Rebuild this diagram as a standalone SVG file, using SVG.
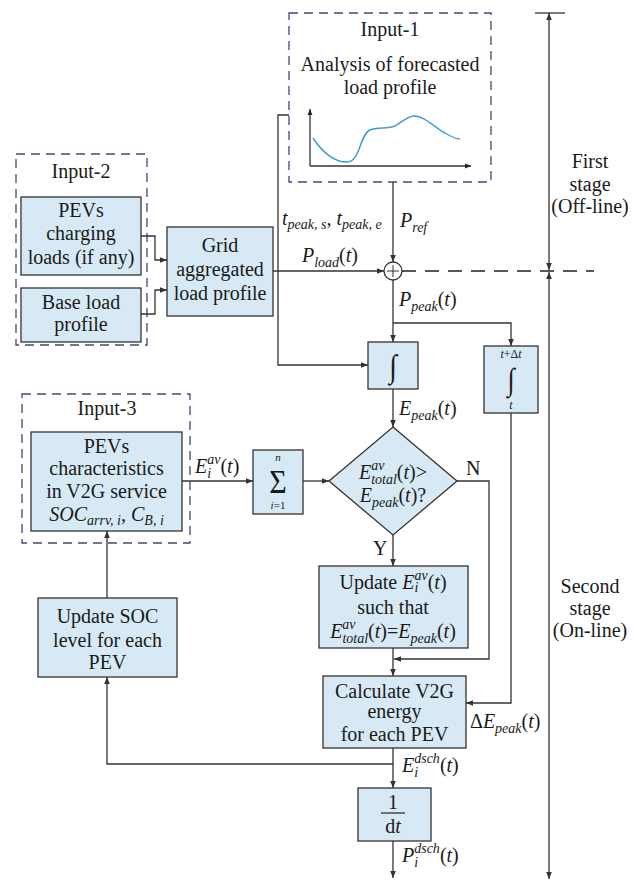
<svg xmlns="http://www.w3.org/2000/svg" width="634" height="881" viewBox="0 0 634 881">
<defs>
<marker id="ah" viewBox="0 0 10 10" refX="10" refY="5" markerWidth="7" markerHeight="7" orient="auto-start-reverse" markerUnits="userSpaceOnUse"><path d="M0,1 L10,5 L0,9 z" fill="#333"/></marker>
<marker id="ahs" viewBox="0 0 10 10" refX="10" refY="5" markerWidth="6" markerHeight="6" orient="auto-start-reverse" markerUnits="userSpaceOnUse"><path d="M0,1 L10,5 L0,9 z" fill="#222"/></marker>
</defs>
<style>
text{font-family:"Liberation Serif","Times New Roman",serif;font-size:20px;fill:#1a1a1a}
.m{font-style:italic}
.s{font-size:14px}
.box{fill:#d7e9f5;stroke:#333;stroke-width:1.3}
.grp{fill:none;stroke:#45457f;stroke-width:1.3;stroke-dasharray:9 6}
.c{fill:none;stroke:#333;stroke-width:1.3}
</style>
<rect width="634" height="881" fill="#fff"/>

<g id="input1">
<rect class="grp" x="289" y="13" width="202" height="169"/>
<text x="390" y="36" text-anchor="middle">Input-1</text>
<text x="390" y="71" text-anchor="middle">Analysis of forecasted</text>
<text x="390" y="94" text-anchor="middle">load profile</text>
<path class="c" d="M310,166 V109" marker-end="url(#ahs)"/>
<path class="c" d="M310,166 H471" marker-end="url(#ahs)"/>
<path d="M313,138 C322,152 335,163 348,162 C360,161 360,134 370,130 C378,127 388,129 395,126 C402,122 408,116 414,116 C425,116 435,128 445,133 C450,136 455,139 460,139" fill="none" stroke="#3d9ad6" stroke-width="1.4"/>
</g>

<g id="input2">
<rect class="grp" x="16" y="154" width="131" height="191"/>
<text x="81" y="178" text-anchor="middle">Input-2</text>
</g>
<g id="pevs-charging">
<rect class="box" x="21" y="197" width="120" height="78"/>
<text x="81" y="217" text-anchor="middle">PEVs</text>
<text x="81" y="240" text-anchor="middle">charging</text>
<text x="81" y="264" text-anchor="middle">loads (if any)</text>
</g>
<g id="base-load">
<rect class="box" x="21" y="288" width="120" height="54"/>
<text x="81" y="309" text-anchor="middle">Base load</text>
<text x="81" y="331" text-anchor="middle">profile</text>
</g>
<g id="grid">
<rect class="box" x="167" y="227" width="106" height="89"/>
<text x="220" y="252" text-anchor="middle">Grid</text>
<text x="220" y="276" text-anchor="middle">aggregated</text>
<text x="220" y="300" text-anchor="middle">load profile</text>
</g>

<g id="sum-junction">
<circle cx="393" cy="271" r="9" fill="#fff" stroke="#333" stroke-width="1.3"/>
<path d="M387,271 H399 M393,265 V277" stroke="#333" stroke-width="1"/>
</g>

<g id="integral1">
<rect class="box" x="368" y="342" width="50" height="47"/>
<text transform="translate(393,377) scale(1,1.15)" text-anchor="middle" style="font-size:28px">∫</text>
</g>
<g id="integral2">
<rect class="box" x="484" y="346" width="54" height="67"/>
<text x="511" y="358" text-anchor="middle" class="m" style="font-size:12px">t<tspan font-style="normal">+Δ</tspan>t</text>
<text transform="translate(511,390) scale(1,1.2)" text-anchor="middle" style="font-size:26px">∫</text>
<text x="511" y="409" text-anchor="middle" class="m" style="font-size:12px">t</text>
</g>

<g id="input3">
<rect class="grp" x="22" y="394" width="168" height="149"/>
<text x="107" y="415" text-anchor="middle">Input-3</text>
</g>
<g id="pevs-char">
<rect class="box" x="31" y="432" width="151" height="99"/>
<text x="106.5" y="453" text-anchor="middle">PEVs</text>
<text x="106.5" y="475" text-anchor="middle">characteristics</text>
<text x="106.5" y="498" text-anchor="middle">in V2G service</text>
<text x="106.5" y="521" text-anchor="middle" class="m">SOC<tspan class="s" dy="4">arrv, i</tspan><tspan dy="-4">, C</tspan><tspan class="s" dy="4">B, i</tspan></text>
</g>

<g id="sigma">
<rect class="box" x="253" y="450" width="50" height="64"/>
<text x="278" y="461" text-anchor="middle" class="m" style="font-size:11px">n</text>
<text transform="translate(278,493) scale(1,1.1)" text-anchor="middle" style="font-size:30px">Σ</text>
<text x="278" y="509" text-anchor="middle" style="font-size:11px"><tspan class="m" style="font-size:11px">i</tspan>=1</text>
</g>

<g id="decision">
<path class="box" d="M393,427 L457,481 L393,535 L329,481 Z"/>
<text x="393" y="479" text-anchor="middle"><tspan class="m">E</tspan><tspan class="s m" dy="5">total</tspan><tspan class="s m" dx="-25.7" dy="-14">av</tspan><tspan dx="12.5" dy="9">(<tspan class="m">t</tspan>)&gt;</tspan></text>
<text x="393" y="502" text-anchor="middle"><tspan class="m">E</tspan><tspan class="s m" dy="5">peak</tspan><tspan dy="-5">(<tspan class="m">t</tspan>)?</tspan></text>
</g>

<g id="update-e">
<rect class="box" x="319" y="566" width="149" height="82"/>
<text x="393" y="589" text-anchor="middle">Update <tspan class="m">E</tspan><tspan class="s m" dy="3">i</tspan><tspan class="s m" dx="-3.9" dy="-12">av</tspan><tspan dy="9">(<tspan class="m">t</tspan>)</tspan></text>
<text x="393" y="614" text-anchor="middle">such that</text>
<text x="393" y="638" text-anchor="middle"><tspan class="m">E</tspan><tspan class="s m" dy="5">total</tspan><tspan class="s m" dx="-25.7" dy="-14">av</tspan><tspan dx="12.5" dy="9">(<tspan class="m">t</tspan>)=<tspan class="m">E</tspan></tspan><tspan class="s m" dy="5">peak</tspan><tspan dy="-5">(<tspan class="m">t</tspan>)</tspan></text>
</g>

<g id="calculate">
<rect class="box" x="323" y="676" width="143" height="72"/>
<text x="394.5" y="698" text-anchor="middle">Calculate V2G</text>
<text x="394.5" y="718" text-anchor="middle">energy</text>
<text x="394.5" y="741" text-anchor="middle">for each PEV</text>
</g>

<g id="update-soc">
<rect class="box" x="38" y="598" width="139" height="79"/>
<text x="107.5" y="623" text-anchor="middle">Update SOC</text>
<text x="107.5" y="647" text-anchor="middle">level for each</text>
<text x="107.5" y="669" text-anchor="middle">PEV</text>
</g>

<g id="derivative">
<rect class="box" x="358" y="788" width="73" height="53"/>
<text x="393" y="809" text-anchor="middle">1</text>
<path d="M381,813 H405" stroke="#222" stroke-width="1.2"/>
<text x="393" y="833" text-anchor="middle">d<tspan class="m">t</tspan></text>
</g>

<g id="connectors">
<path class="c" d="M393,182 V262" marker-end="url(#ah)"/>
<path class="c" d="M273,271 H384" marker-end="url(#ah)"/>
<path class="c" d="M289,115 H278 V365 H368" marker-end="url(#ah)"/>
<path class="c" d="M141,236 H155 V260 H167" marker-end="url(#ah)"/>
<path class="c" d="M141,314 H155 V290 H167" marker-end="url(#ah)"/>
<path class="c" d="M393,280 V342" marker-end="url(#ah)"/>
<path class="c" d="M393,323 H511 V346" marker-end="url(#ah)"/>
<path class="c" d="M393,389 V427" marker-end="url(#ah)"/>
<path class="c" d="M182,481 H253" marker-end="url(#ah)"/>
<path class="c" d="M303,481 H329" marker-end="url(#ah)"/>
<path class="c" d="M393,535 V566" marker-end="url(#ah)"/>
<path class="c" d="M457,481 H489 V659 H394" marker-end="url(#ah)"/>
<path class="c" d="M393,648 V676" marker-end="url(#ah)"/>
<path class="c" d="M511,413 V703 H466" marker-end="url(#ah)"/>
<path class="c" d="M393,748 V788" marker-end="url(#ah)"/>
<path class="c" d="M393,764 H107 V677" marker-end="url(#ah)"/>
<path class="c" d="M107,598 V531" marker-end="url(#ah)"/>
<path class="c" d="M393,841 V878" marker-end="url(#ah)"/>
<path d="M402,271 H594" fill="none" stroke="#222" stroke-width="1.3" stroke-dasharray="14 9"/>
<path class="c" d="M535,13 H565"/>
<path class="c" d="M549,13 V270" marker-start="url(#ah)" marker-end="url(#ah)"/>
<path class="c" d="M549,272 V879" marker-start="url(#ah)" marker-end="url(#ah)"/>
</g>

<g id="labels">
<text x="282" y="225" class="m">t<tspan class="s" dy="4">peak, s</tspan><tspan dy="-4">, t</tspan><tspan class="s" dy="4">peak, e</tspan></text>
<text x="400" y="227" class="m">P<tspan class="s" dy="5">ref</tspan></text>
<text x="302" y="262"><tspan class="m">P</tspan><tspan class="s m" dy="5">load</tspan><tspan dy="-5">(<tspan class="m">t</tspan>)</tspan></text>
<text x="399" y="306"><tspan class="m">P</tspan><tspan class="s m" dy="5">peak</tspan><tspan dy="-5">(<tspan class="m">t</tspan>)</tspan></text>
<text x="399" y="415"><tspan class="m">E</tspan><tspan class="s m" dy="5">peak</tspan><tspan dy="-5">(<tspan class="m">t</tspan>)</tspan></text>
<text x="195" y="473"><tspan class="m">E</tspan><tspan class="s m" dy="5">i</tspan><tspan class="s m" dx="-3.9" dy="-14">av</tspan><tspan dy="9">(<tspan class="m">t</tspan>)</tspan></text>
<text x="466" y="475">N</text>
<text x="373" y="555">Y</text>
<text x="470" y="728">Δ<tspan class="m">E</tspan><tspan class="s m" dy="5">peak</tspan><tspan dy="-5">(<tspan class="m">t</tspan>)</tspan></text>
<text x="402" y="772"><tspan class="m">E</tspan><tspan class="s m" dy="5">i</tspan><tspan class="s m" dx="-3.9" dy="-14">dsch</tspan><tspan dy="9">(<tspan class="m">t</tspan>)</tspan></text>
<text x="402" y="862"><tspan class="m">P</tspan><tspan class="s m" dy="5">i</tspan><tspan class="s m" dx="-3.9" dy="-14">dsch</tspan><tspan dy="9">(<tspan class="m">t</tspan>)</tspan></text>
<text x="590" y="168" text-anchor="middle">First</text>
<text x="590" y="191" text-anchor="middle">stage</text>
<text x="590" y="213" text-anchor="middle">(Off-line)</text>
<text x="590" y="593" text-anchor="middle">Second</text>
<text x="590" y="615" text-anchor="middle">stage</text>
<text x="590" y="637" text-anchor="middle">(On-line)</text>
</g>
</svg>
